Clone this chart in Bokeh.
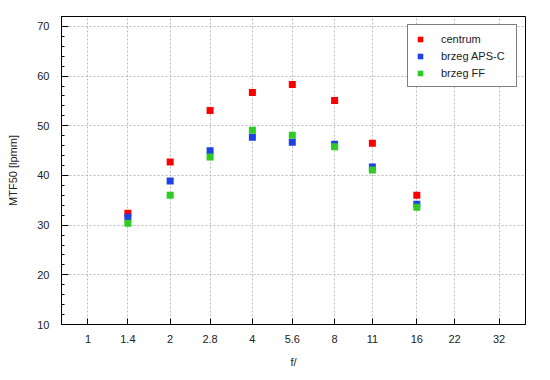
from bokeh.plotting import figure
from bokeh.models import Range1d, FixedTicker, SingleIntervalTicker, Legend, LegendItem
from bokeh.embed import file_html
from bokeh.resources import INLINE

# f-stops shown on the axis
tick_values = [1, 1.4, 2, 2.8, 4, 5.6, 8, 11, 16, 22, 32]
tick_labels = ["1", "1.4", "2", "2.8", "4", "5.6", "8", "11", "16", "22", "32"]

# measured apertures
apertures = [1.4, 2, 2.8, 4, 5.6, 8, 11, 16]
centrum = [32.4, 42.7, 53.1, 56.7, 58.3, 55.1, 46.5, 36.0]
brzeg_apsc = [31.6, 38.9, 45.0, 47.7, 46.7, 46.3, 41.7, 34.2]
brzeg_ff = [30.4, 36.0, 43.7, 49.1, 48.1, 45.8, 41.1, 33.6]

series_names = ["centrum", "brzeg APS-C", "brzeg FF"]
series_colors = ["#ff0000", "#1e40e6", "#2ecc22"]

FONT = "Liberation Sans"

p = figure(width=545, height=370, x_axis_type="log",
           x_range=Range1d(0.8, 40), y_range=Range1d(10, 72),
           output_backend="svg", toolbar_location=None,
           min_border_left=61, min_border_right=20,
           min_border_top=16, min_border_bottom=45)

p.background_fill_color = "white"
p.border_fill_color = "white"
p.outline_line_color = "black"
p.outline_line_width = 1

# x axis
xa = p.xaxis[0]
xa.ticker = FixedTicker(ticks=tick_values, minor_ticks=[])
xa.major_label_overrides = {v: l for v, l in zip(tick_values, tick_labels)}
xa.axis_label = "f/"
# y axis
ya = p.yaxis[0]
ya.ticker = SingleIntervalTicker(interval=10, num_minor_ticks=5)
ya.axis_label = "MTF50 [lpmm]"

for ax in (xa, ya):
    ax.axis_line_color = "black"
    ax.major_tick_line_color = "black"
    ax.minor_tick_line_color = "black"
    ax.major_tick_out = 0
    ax.minor_tick_out = 0
    ax.major_label_text_font = FONT
    ax.major_label_text_font_size = "11px"
    ax.major_label_text_color = "#222222"
    ax.axis_label_text_font = FONT
    ax.axis_label_text_font_size = "11px"
    ax.axis_label_text_font_style = "normal"
    ax.axis_label_text_color = "#222222"

xa.major_tick_in = 6
xa.major_label_standoff = 10
xa.axis_label_standoff = 10
ya.major_tick_in = 7
ya.minor_tick_in = 3
ya.major_label_standoff = 12
ya.axis_label_standoff = 15

for g in (p.xgrid[0], p.ygrid[0]):
    g.grid_line_color = "#bbbbbb"
    g.grid_line_dash = "2 2"
    g.grid_line_width = 1
p.xgrid[0].ticker = xa.ticker

items = []
for name, vals, col in zip(series_names, [centrum, brzeg_apsc, brzeg_ff], series_colors):
    r = p.scatter(apertures, vals, marker="square", size=7,
                  fill_color=col, line_color=None)
    items.append(LegendItem(label=name, renderers=[r]))

legend = Legend(items=items, location=(346, 237),
                border_line_color="black", border_line_width=1,
                background_fill_color="white", background_fill_alpha=1,
                padding=5, spacing=0, margin=0,
                glyph_width=14, glyph_height=14, label_height=17,
                label_standoff=14, label_width=70,
                label_text_font=FONT, label_text_font_size="11px",
                label_text_align="right",
                label_text_color="#222222")
p.add_layout(legend, "center")

open("out.html", "w").write(file_html(p, INLINE))
